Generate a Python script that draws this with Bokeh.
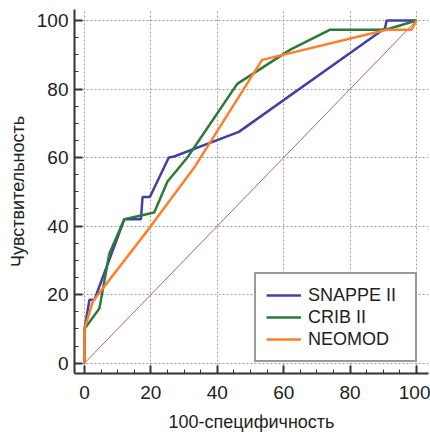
from bokeh.plotting import figure
from bokeh.models import FixedTicker, Range1d, Legend, LegendItem
from bokeh.embed import file_html
from bokeh.resources import INLINE

# data
x_snappe = [0, 0, 1.5, 3, 12, 17, 17.5, 19.7, 25.4, 27, 46.5, 90.5, 91, 100]
y_snappe = [0, 10, 18.5, 18.5, 42, 42, 48.5, 48.5, 60, 60.3, 67.5, 97.7, 100, 100]

x_crib = [0, 0, 4.5, 7.5, 12, 21, 25, 31, 46, 62, 74, 90.7, 100]
y_crib = [0, 10, 16, 32, 42, 44, 53, 60, 81.5, 91.5, 97.3, 97.3, 100]

x_neomod = [0, 0, 2.5, 20, 33, 53.5, 91, 98.5, 100]
y_neomod = [0, 10, 18, 40, 57, 88.5, 97.3, 97.3, 100]

x_diag = [0, 100]
y_diag = [0, 100]

major_ticks = [0, 20, 40, 60, 80, 100]
minor_ticks = [0, 5, 10, 15, 20, 25, 30, 35, 40, 45, 50, 55, 60, 65, 70, 75, 80, 85, 90, 95, 100]

FONT = "Liberation Sans"

p = figure(width=430, height=434, output_backend="svg", toolbar_location=None,
           x_range=Range1d(-3.0, 103.6), y_range=Range1d(-3.0, 103.2),
           min_border_left=74, min_border_right=2, min_border_top=9, min_border_bottom=61)
p.outline_line_color = None
p.background_fill_color = "white"

for ax in (p.xaxis[0], p.yaxis[0]):
    ax.ticker = FixedTicker(ticks=major_ticks, minor_ticks=minor_ticks)
    ax.axis_line_width = 2
    ax.axis_line_color = "#333333"
    ax.major_tick_in = 8
    ax.major_tick_out = 0
    ax.major_tick_line_width = 2
    ax.major_tick_line_color = "#333333"
    ax.minor_tick_in = 4
    ax.minor_tick_out = 0
    ax.minor_tick_line_width = 1
    ax.minor_tick_line_color = "#333333"
    ax.major_label_text_font = FONT
    ax.major_label_text_font_size = "19px"
    ax.major_label_text_color = "#222222"
    ax.axis_label_text_font = FONT
    ax.axis_label_text_font_size = "18px"
    ax.axis_label_text_font_style = "normal"
    ax.axis_label_text_color = "#222222"

p.xaxis.axis_label = "100-специфичность"
p.yaxis.axis_label = "Чувствительность"
p.xaxis.major_label_standoff = 12
p.yaxis.major_label_standoff = 6
p.xaxis.axis_label_standoff = 10
p.yaxis.axis_label_standoff = 6

for g in (p.xgrid[0], p.ygrid[0]):
    g.ticker = FixedTicker(ticks=major_ticks)
    g.grid_line_color = "#9a9a9a"
    g.grid_line_dash = "2 2"
    g.grid_line_width = 1

p.line(x_diag, y_diag, line_color="#b5655a", line_width=1)
r_s = p.line(x_snappe, y_snappe, line_color="#4040a8", line_width=2.5)
r_c = p.line(x_crib, y_crib, line_color="#2b7a38", line_width=2.5)
r_n = p.line(x_neomod, y_neomod, line_color="#ff7f2a", line_width=2.5)

legend = Legend(items=[LegendItem(label="SNAPPE II", renderers=[r_s]),
                       LegendItem(label="CRIB II", renderers=[r_c]),
                       LegendItem(label="NEOMOD", renderers=[r_n])],
                location="bottom_right")
legend.margin = 11
legend.padding = 10
legend.spacing = 0
legend.label_height = 22
legend.glyph_height = 22
legend.glyph_width = 35
legend.label_standoff = 7
legend.label_width = 97
legend.label_text_font = FONT
legend.label_text_font_size = "18px"
legend.label_text_color = "#222222"
legend.border_line_color = "#333333"
legend.border_line_width = 2
legend.background_fill_color = "white"
legend.background_fill_alpha = 1.0
p.add_layout(legend)

open("out.html", "w").write(file_html(p, INLINE))
